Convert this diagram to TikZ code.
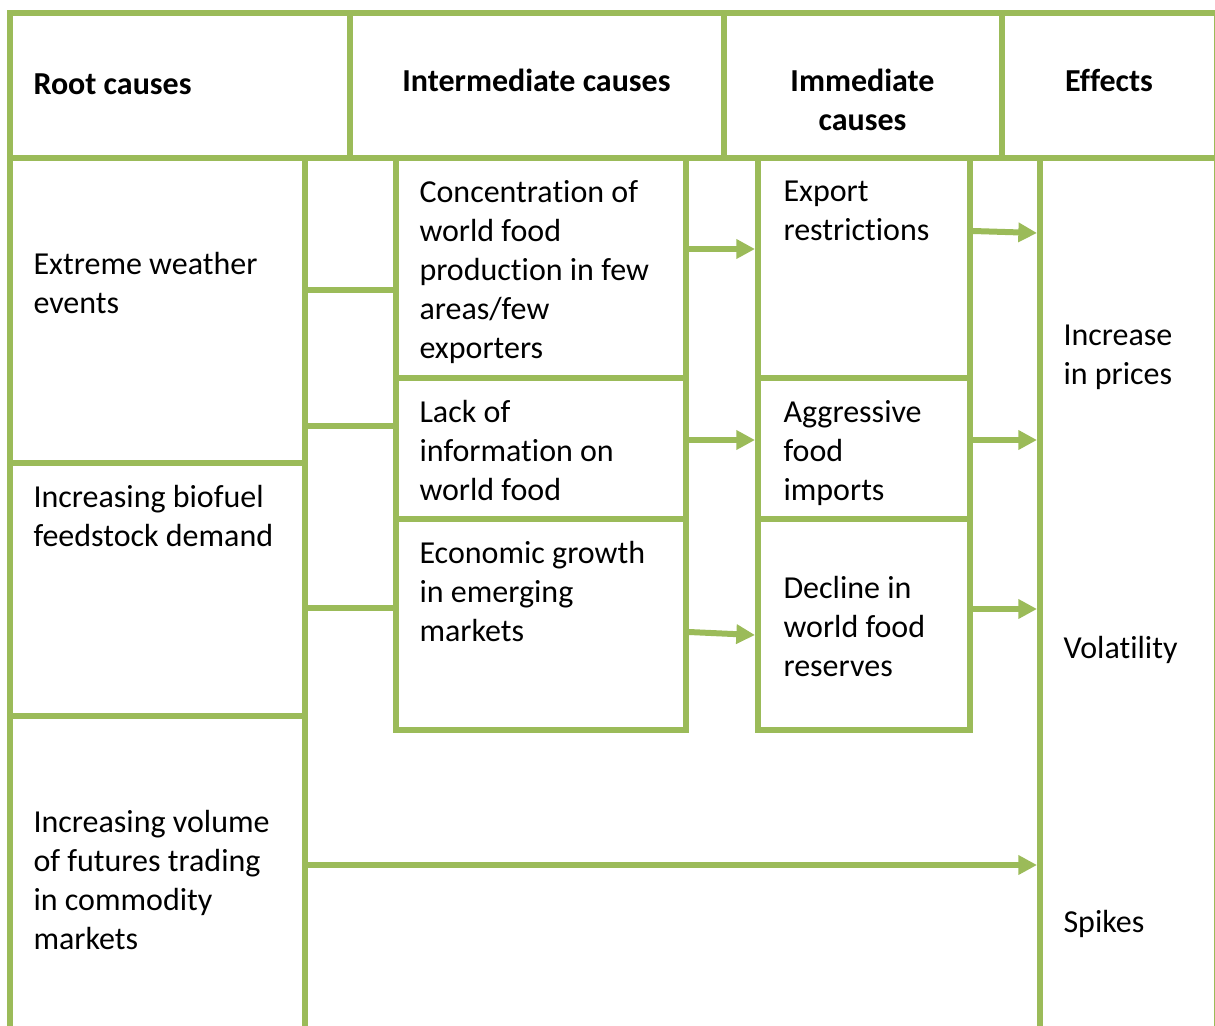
\documentclass[tikz,border=0pt]{standalone}
\usepackage{fontspec}
\setmainfont{Carlito}[Ligatures=NoCommon]
\usetikzlibrary{arrows.meta, positioning}
\definecolor{leafgreen}{HTML}{9BBB59}
\newlength{\pxu}
\setlength{\pxu}{0.375pt}

\begin{document}
\begin{tikzpicture}[x=0.375pt, y=-0.375pt,
    cell/.style={draw=leafgreen, line width=2.25pt, anchor=north west, inner sep=0pt},
    txt/.style={anchor=north west, align=left, inner sep=0pt, execute at begin node=\strut, font=\fontsize{12}{14.625}\selectfont},
    head/.style={txt, anchor=north, align=center, font=\bfseries\fontsize{12}{14.625}\selectfont},
    link/.style={draw=leafgreen, line width=2.25pt},
    arr/.style={link, -{Triangle[length=7pt, width=7pt]}}]

    \useasboundingbox (0,0) rectangle (1215,1026);
    \begin{scope}
    \clip (0,0) rectangle (1215,1026);

    % header row
    \node [cell, minimum width=339.5*\pxu, minimum height=145*\pxu] (hroot) at (7,10) {};
    \node [cell, minimum width=374*\pxu, minimum height=145*\pxu] (hinter) at (346.5,10) {};
    \node [cell, minimum width=278*\pxu, minimum height=145*\pxu] (himm) at (720.5,10) {};
    \node [cell, minimum width=215.5*\pxu, minimum height=145*\pxu] (heff) at (998.5,10) {};

    % root causes
    \node [cell, minimum width=295*\pxu, minimum height=305*\pxu] (root1) at (7,155) {};
    \node [cell, minimum width=295*\pxu, minimum height=253*\pxu] (root2) at (7,460) {};
    \node [cell, minimum width=295*\pxu, minimum height=384*\pxu] (root3) at (7,713) {};

    % intermediate causes
    \node [cell, minimum width=290.5*\pxu, minimum height=220*\pxu] (inter1) at (392.5,155) {};
    \node [cell, minimum width=290.5*\pxu, minimum height=141*\pxu] (inter2) at (392.5,375) {};
    \node [cell, minimum width=290.5*\pxu, minimum height=211*\pxu] (inter3) at (392.5,516) {};

    % immediate causes
    \node [cell, minimum width=212*\pxu, minimum height=220*\pxu] (imm1) at (755,155) {};
    \node [cell, minimum width=212*\pxu, minimum height=141*\pxu] (imm2) at (755,375) {};
    \node [cell, minimum width=212*\pxu, minimum height=211*\pxu] (imm3) at (755,516) {};

    % effects
    \node [cell, minimum width=177*\pxu, minimum height=942*\pxu] (eff) at (1037,155) {};

    % texts
    \node [head, anchor=north west] (troot) at (33,67) {Root causes};
    \node [head] (tinter) at (536.5,64) {Intermediate causes};
    \node [head] (timm) at (862.5,69) {Immediate\\causes};
    \node [head] (teff) at (1109,64) {Effects};

    \node [txt] (troot1) at (33,252) {Extreme weather\\events};
    \node [txt] (troot2) at (33,485) {Increasing biofuel\\feedstock demand};
    \node [txt] (troot3) at (33,810) {Increasing volume\\of futures trading\\in commodity\\markets};

    \node [txt] (tinter1) at (419,180) {Concentration of\\world food\\production in few\\areas/few\\exporters};
    \node [txt] (tinter2) at (419,400) {Lack of\\information on\\world food};
    \node [txt] (tinter3) at (419,541) {Economic growth\\in emerging\\markets};

    \node [txt] (timm1) at (783,180) {Export\\restrictions};
    \node [txt] (timm2) at (783,400) {Aggressive\\food\\imports};
    \node [txt] (timm3) at (783,576) {Decline in\\world food\\reserves};

    \node [txt] (teff1) at (1063,324) {Increase\\in prices};
    \node [txt] (teff2) at (1063,631) {Volatility};
    \node [txt] (teff3) at (1063,905) {Spikes};

    % connectors
    \draw [link] (root1.east |- 0,290) -- (inter1.west |- 0,290);
    \draw [link] (root1.east |- 0,426) -- (inter2.west |- 0,426);
    \draw [link] (root2.east |- 0,608) -- (inter3.west |- 0,608);

    \draw [arr] (inter1.east |- 0,249) -- (imm1.west |- 0,249);
    \draw [arr] (inter2.east |- 0,440) -- (imm2.west |- 0,440);
    \draw [arr] (inter3.east |- 0,632) -- (imm3.west |- 0,635);

    \draw [arr] (imm1.east |- 0,231) -- (eff.west |- 0,233);
    \draw [arr] (imm2.east |- 0,440) -- (eff.west |- 0,440);
    \draw [arr] (imm3.east |- 0,609) -- (eff.west |- 0,609);
    \draw [arr] (root3.east |- 0,865) -- (eff.west |- 0,865);
    \end{scope}
\end{tikzpicture}
\end{document}
